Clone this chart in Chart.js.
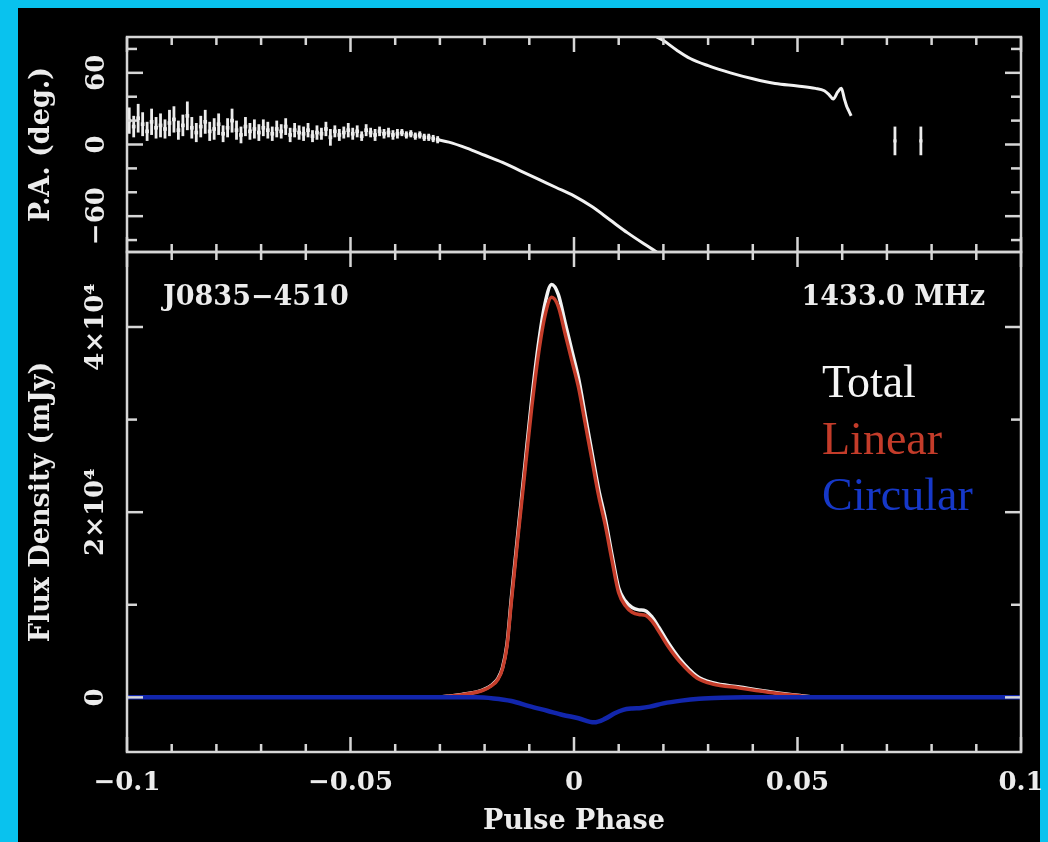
<!DOCTYPE html>
<html>
<head>
<meta charset="utf-8">
<script src="https://cdn.jsdelivr.net/npm/chart.js@4.4.1/dist/chart.umd.min.js"></script>
<style>
  html, body { margin: 0; padding: 0; }
  body { width: 1048px; height: 842px; background: #09c2ee; position: relative; overflow: hidden; }
  #panel { position: absolute; left: 18px; top: 8px; width: 1022px; height: 834px; background: #000; }
  canvas { position: absolute; left: 0; top: 0; }
</style>
</head>
<body>
<div id="panel"></div>
<canvas id="paChart" width="1048" height="842"></canvas>
<canvas id="fluxChart" width="1048" height="842"></canvas>
<script>
// axis ticks and labels
const phaseTicks = [-0.1, -0.05, 0, 0.05, 0.1];
const phaseTickLabels = ['\u22120.1', '\u22120.05', '0', '0.05', '0.1'];
const paTicks = [-60, 0, 60];
const paTickLabels = ['\u221260', '0', '60'];
const fluxTicks = [0, 20000, 40000];
const fluxTickLabels = ['0', '2\u00d710\u2074', '4\u00d710\u2074'];

const pulsarName = 'J0835\u22124510';
const obsFreq = '1433.0 MHz';
const legendNames = ['Total', 'Linear', 'Circular'];

// pulse profile (mJy)
const profilePhase = [-0.100, -0.050, -0.032, -0.028, -0.025, -0.0205, -0.0185, -0.017, -0.016, -0.015,
  -0.014, -0.0125, -0.011, -0.0095, -0.008, -0.0065, -0.005, -0.0035, -0.002, -0.0005,
  0.001, 0.0025, 0.004, 0.0055, 0.007, 0.0085, 0.010, 0.0115, 0.013, 0.0145,
  0.016, 0.0175, 0.019, 0.021, 0.0235, 0.0275, 0.031, 0.037, 0.0445, 0.050,
  0.055, 0.100];
const totalFlux = [0, 0, 0, 130, 310, 780, 1300, 2050, 3200, 5700,
  10800, 18000, 25000, 32000, 38000, 42500, 44600, 43500, 40500, 37500,
  34500, 30500, 26500, 22500, 19300, 15400, 11800, 10400, 9700, 9450,
  9350, 8650, 7550, 5950, 4250, 2300, 1580, 1120, 560, 220,
  0, 0];
const linearFlux = [0, 0, 0, 120, 290, 740, 1240, 1960, 3080, 5500,
  10400, 17500, 24300, 31100, 36900, 41200, 43200, 42200, 39300, 36400,
  33500, 29600, 25700, 21800, 18600, 14800, 11300, 9900, 9200, 8950,
  8850, 8200, 7100, 5550, 3950, 2100, 1450, 1020, 500, 190,
  0, 0];
const circPhase = [-0.100, -0.022, -0.018, -0.014, -0.010, -0.006, -0.0025, 0.001, 0.0045, 0.007,
  0.009, 0.011, 0.013, 0.015, 0.017, 0.020, 0.024, 0.028, 0.033, 0.038,
  0.100];
const circularFlux = [0, 0, -120, -400, -950, -1450, -1900, -2250, -2700, -2300,
  -1750, -1350, -1200, -1150, -1000, -650, -350, -150, -40, 0,
  0];

// position angle (deg) with errors
const paNoisyPhase = [
  -0.0995, -0.0985, -0.0975, -0.0965, -0.0955, -0.0945, -0.0935, -0.0925, -0.0915, -0.0905,
  -0.0895, -0.0885, -0.0875, -0.0865, -0.0855, -0.0845, -0.0835, -0.0825, -0.0815, -0.0805,
  -0.0795, -0.0785, -0.0775, -0.0765, -0.0755, -0.0745, -0.0735, -0.0725, -0.0715, -0.0705,
  -0.0695, -0.0685, -0.0675, -0.0665, -0.0655, -0.0645, -0.0635, -0.0625, -0.0615, -0.0605,
  -0.0595, -0.0585, -0.0575, -0.0565, -0.0555, -0.0545, -0.0535, -0.0525, -0.0515, -0.0505,
  -0.0495, -0.0485, -0.0475, -0.0465, -0.0455, -0.0445, -0.0435, -0.0425, -0.0415, -0.0405,
  -0.0395, -0.0385, -0.0375, -0.0365, -0.0355, -0.0345, -0.0335, -0.0325, -0.0315, -0.0305];
const paNoisyDeg = [
  20, 15, 22, 17, 11, 19, 14, 16, 13, 18,
  21, 12, 16, 24, 14, 10, 15, 19, 11, 13,
  17, 9, 14, 20, 12, 8, 15, 11, 13, 10,
  14, 12, 9, 13, 11, 15, 8, 12, 10, 9,
  12, 7, 10, 9, 13, 6, 11, 8, 10, 12,
  9, 11, 7, 12, 10, 8, 11, 9, 10, 8,
  9, 10, 8, 9, 7, 8, 6, 6, 5, 4];
const paNoisyErr = [
  11, 9, 12, 10, 8, 11, 9, 10, 8, 11,
  11, 8, 9, 12, 9, 8, 9, 10, 8, 9,
  9, 7, 8, 10, 8, 7, 8, 7, 8, 7,
  7, 7, 6, 7, 6, 7, 6, 6, 6, 6,
  6, 5, 6, 5, 6, 7, 5, 5, 5, 6,
  5, 5, 4, 5, 4, 5, 4, 4, 4, 4,
  4, 3, 3, 3, 3, 3, 3, 3, 3, 3];
const paSweepPhase = [-0.0305, -0.028, -0.024, -0.020, -0.016, -0.012, -0.008, -0.004, 0.000, 0.004,
  0.008, 0.012, 0.016, 0.0185, 0.0185, 0.0185, 0.020, 0.023, 0.026, 0.030,
  0.035, 0.040, 0.045, 0.050, 0.054, 0.056, 0.057, 0.058, 0.059, 0.0598,
  0.0605, 0.061, 0.0615, 0.062];
const paSweepDeg = [4, 2, -3, -9, -15, -22, -29, -36, -43, -52,
  -63, -74, -84, -90, null, 90, 87, 79, 72, 66,
  60, 55, 51, 49, 47, 45, 42, 38, 44, 47,
  38, 32, 28, 24];
const paFarPhase = [0.0718, 0.0776];
const paFarDeg = [3, 3];
const paFarErr = [12, 12];

const inkColor = '#ececec';
const totalColor = '#f2f2f2';
const linearColor = '#c63e2b';
const circularColor = '#1226ac';
const legendColors = ['#f4f4f4', '#c43c2a', '#1638c8'];

const tickFont = { family: 'DejaVu Serif', size: 26, weight: 'bold' };
const titleFont = { family: 'DejaVu Serif', size: 27, weight: 'bold' };

function points(xs, ys) {
  return xs.map((x, i) => ({ x: x, y: ys[i] }));
}

// vertical error bars for datasets that carry an `errors` array
const errorBars = {
  id: 'errorBars',
  afterDatasetsDraw(chart) {
    const ctx = chart.ctx;
    const y = chart.scales.y;
    const a = chart.chartArea;
    ctx.save();
    ctx.beginPath();
    ctx.rect(a.left, a.top, a.width, a.height);
    ctx.clip();
    ctx.strokeStyle = inkColor;
    ctx.lineWidth = 2.8;
    chart.data.datasets.forEach((ds, i) => {
      if (!ds.errors) return;
      const meta = chart.getDatasetMeta(i);
      meta.data.forEach((pt, j) => {
        const v = ds.data[j].y, e = ds.errors[j];
        ctx.beginPath();
        ctx.moveTo(pt.x, y.getPixelForValue(v + e));
        ctx.lineTo(pt.x, y.getPixelForValue(v - e));
        ctx.stroke();
      });
    });
    ctx.restore();
  }
};

// pgplot style box: frame with inward ticks on all four sides
const frameTicks = {
  id: 'frameTicks',
  afterDatasetsDraw(chart, args, opts) {
    const { ctx, chartArea: a, scales } = chart;
    ctx.save();
    ctx.strokeStyle = '#d6d6d6';
    ctx.lineWidth = 2.5;
    ctx.strokeRect(a.left, a.top, a.width, a.height);
    const seg = (x1, y1, x2, y2) => { ctx.beginPath(); ctx.moveTo(x1, y1); ctx.lineTo(x2, y2); ctx.stroke(); };
    for (let i = -10; i <= 10; i++) {
      const px = scales.x.getPixelForValue(i / 100);
      const len = i % 5 === 0 ? 15 : 8;
      seg(px, a.top, px, a.top + len);
      seg(px, a.bottom, px, a.bottom - len);
    }
    for (let v = opts.from; v <= opts.to; v += opts.step) {
      const py = scales.y.getPixelForValue(v);
      const len = v % opts.major === 0 ? 16 : 10;
      seg(a.left, py, a.left + len, py);
      seg(a.right, py, a.right - len, py);
    }
    ctx.restore();
  }
};

const panelText = {
  id: 'panelText',
  afterDraw(chart) {
    const { ctx, chartArea: a } = chart;
    ctx.save();
    ctx.textBaseline = 'alphabetic';
    ctx.fillStyle = inkColor;
    ctx.font = 'bold 27px "DejaVu Serif"';
    ctx.textAlign = 'left';
    ctx.fillText(pulsarName, a.left + 36, a.top + 53);
    ctx.textAlign = 'right';
    ctx.fillText(obsFreq, a.right - 36, a.top + 53);
    ctx.textAlign = 'left';
    ctx.font = '46px "Liberation Serif"';
    legendNames.forEach((name, i) => {
      ctx.fillStyle = legendColors[i];
      ctx.fillText(name, 822, 397 + i * 56.5);
    });
    ctx.restore();
  }
};

function yAxis(min, max, ticks, labels, title, pad) {
  return {
    type: 'linear', min: min, max: max,
    afterFit(s) { s.width = 109; s.paddingTop = 0; s.paddingBottom = 0; },
    afterBuildTicks(s) { s.ticks = ticks.map(v => ({ value: v })); },
    grid: { display: false, drawTicks: false },
    border: { display: false },
    ticks: {
      color: inkColor, font: tickFont, padding: pad, crossAlign: 'center',
      minRotation: 90, maxRotation: 90,
      callback: v => labels[ticks.indexOf(v)]
    },
    title: { display: true, text: title, color: inkColor, font: titleFont, padding: { top: 8, bottom: 0 } }
  };
}

// position angle panel
new Chart(document.getElementById('paChart'), {
  type: 'scatter',
  data: {
    datasets: [
      { data: points(paSweepPhase, paSweepDeg), showLine: true, spanGaps: false,
        borderColor: totalColor, borderWidth: 3, pointRadius: 0, cubicInterpolationMode: 'monotone' },
      { data: points(paNoisyPhase, paNoisyDeg), errors: paNoisyErr, pointStyle: 'rect',
        pointRadius: 2.6, backgroundColor: inkColor, borderWidth: 0 },
      { data: points(paFarPhase, paFarDeg), errors: paFarErr, pointStyle: 'rect',
        pointRadius: 2.2, backgroundColor: inkColor, borderWidth: 0 }
    ]
  },
  options: {
    responsive: false, animation: false, events: [],
    layout: { padding: { left: 18, top: 37, right: 27, bottom: 590 } },
    plugins: { legend: { display: false }, tooltip: { enabled: false },
      frameTicks: { from: -80, to: 80, step: 20, major: 60 } },
    scales: {
      x: { type: 'linear', min: -0.1, max: 0.1, display: false },
      y: yAxis(-90, 90, paTicks, paTickLabels, 'P.A. (deg.)', 1)
    }
  },
  plugins: [errorBars, frameTicks]
});

// flux density panel
new Chart(document.getElementById('fluxChart'), {
  type: 'scatter',
  data: {
    datasets: [
      { label: 'Circular', data: points(circPhase, circularFlux), showLine: true,
        borderColor: circularColor, borderWidth: 4.5, pointRadius: 0, cubicInterpolationMode: 'monotone' },
      { label: 'Linear', data: points(profilePhase, linearFlux), showLine: true,
        borderColor: linearColor, borderWidth: 3.5, pointRadius: 0, cubicInterpolationMode: 'monotone' },
      { label: 'Total', data: points(profilePhase, totalFlux), showLine: true,
        borderColor: totalColor, borderWidth: 3.5, pointRadius: 0, cubicInterpolationMode: 'monotone' }
    ]
  },
  options: {
    responsive: false, animation: false, events: [],
    layout: { padding: { left: 18, top: 252, right: 27, bottom: 0 } },
    plugins: { legend: { display: false }, tooltip: { enabled: false },
      frameTicks: { from: 0, to: 40000, step: 10000, major: 20000 } },
    scales: {
      x: {
        type: 'linear', min: -0.1, max: 0.1,
        afterFit(s) { s.height = 90; s.paddingLeft = 0; s.paddingRight = 0; },
        afterBuildTicks(s) { s.ticks = phaseTicks.map(v => ({ value: v })); },
        grid: { display: false, drawTicks: false },
        border: { display: false },
        ticks: { color: inkColor, font: tickFont, padding: 16, maxRotation: 0,
          callback: v => phaseTickLabels[phaseTicks.indexOf(v)] },
        title: { display: true, text: 'Pulse Phase', color: inkColor, font: titleFont,
          padding: { top: 0, bottom: 4 } }
      },
      y: yAxis(-5900, 48100, fluxTicks, fluxTickLabels, 'Flux Density (mJy)', -13)
    }
  },
  plugins: [frameTicks, panelText]
});
</script>
</body>
</html>
